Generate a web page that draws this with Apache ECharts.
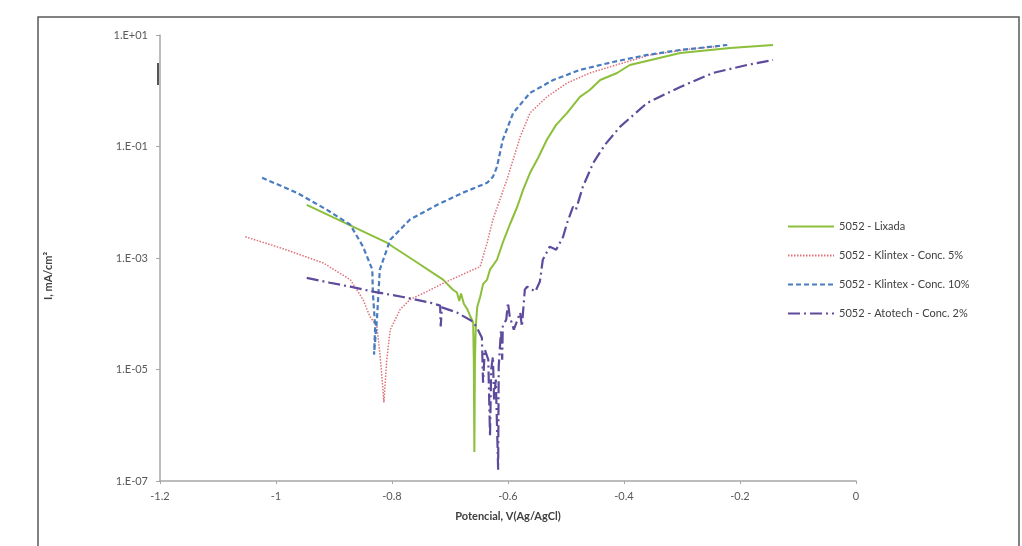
<!DOCTYPE html>
<html>
<head>
<meta charset="utf-8">
<script src="https://cdn.jsdelivr.net/npm/echarts@6/dist/echarts.min.js"></script>
<style>
  html, body { margin: 0; padding: 0; background: #fff; }
  #chart { width: 1022px; height: 546px; }
</style>
</head>
<body>
<div id="chart"></div>
<script>
// potential (V vs Ag/AgCl), current density (mA/cm2)
var lixada = [
  [-0.947, 9.0e-3], [-0.809, 1.88e-3], [-0.764, 9.3e-4], [-0.712, 4.1e-4],
  [-0.695, 2.7e-4], [-0.688, 2.4e-4], [-0.684, 1.7e-4], [-0.681, 2.3e-4],
  [-0.676, 1.5e-4], [-0.670, 1.2e-4], [-0.666, 9.5e-5], [-0.660, 6.9e-5],
  [-0.659, 1.5e-5], [-0.658, 3.3e-7], [-0.657, 1.5e-5], [-0.656, 4.0e-5],
  [-0.655, 7.0e-5], [-0.653, 1.34e-4], [-0.648, 2.0e-4], [-0.643, 3.4e-4],
  [-0.636, 4.1e-4], [-0.631, 6.2e-4], [-0.619, 9.3e-4], [-0.609, 1.88e-3],
  [-0.597, 3.95e-3], [-0.584, 8.3e-3], [-0.574, 0.0167], [-0.562, 0.0337],
  [-0.548, 0.0627], [-0.533, 0.132], [-0.517, 0.244], [-0.498, 0.401],
  [-0.476, 0.775], [-0.459, 1.03], [-0.441, 1.56], [-0.412, 2.08],
  [-0.390, 2.90], [-0.303, 4.76], [-0.217, 5.85], [-0.143, 6.62]
];
var klintex5 = [
  [-1.053, 2.4e-3], [-0.993, 1.53e-3], [-0.919, 8.2e-4], [-0.872, 4.1e-4],
  [-0.850, 1.8e-4], [-0.838, 8.9e-5], [-0.826, 5.9e-5], [-0.821, 2.0e-5],
  [-0.816, 4.96e-6], [-0.814, 2.56e-6], [-0.809, 1.5e-5], [-0.803, 5.2e-5],
  [-0.786, 1.19e-4], [-0.769, 1.8e-4], [-0.740, 2.5e-4], [-0.705, 3.8e-4],
  [-0.660, 6.2e-4], [-0.648, 7.0e-4], [-0.636, 1.88e-3], [-0.626, 4.9e-3],
  [-0.614, 0.0111], [-0.602, 0.0253], [-0.595, 0.043], [-0.579, 0.149],
  [-0.562, 0.401], [-0.533, 0.775], [-0.498, 1.38], [-0.459, 2.08],
  [-0.419, 2.79], [-0.355, 4.39], [-0.286, 5.61], [-0.234, 6.3]
];
var klintex10 = [
  [-1.024, 0.0275], [-0.964, 0.0148], [-0.912, 7.3e-3], [-0.872, 3.95e-3],
  [-0.850, 1.6e-3], [-0.834, 6.2e-4], [-0.833, 2.4e-4], [-0.829, 5.9e-5],
  [-0.831, 1.85e-5], [-0.826, 7.9e-5], [-0.821, 6.2e-4], [-0.803, 2.13e-3],
  [-0.769, 4.9e-3], [-0.722, 9.0e-3], [-0.678, 0.0148], [-0.636, 0.0223],
  [-0.626, 0.0286], [-0.619, 0.0432], [-0.609, 0.132], [-0.591, 0.401],
  [-0.562, 0.914], [-0.522, 1.56], [-0.476, 2.36], [-0.419, 3.28],
  [-0.360, 4.39], [-0.303, 5.38], [-0.222, 6.62]
];
var atotech = [
  [-0.947, 4.4e-4], [-0.907, 3.6e-4], [-0.872, 3.06e-4], [-0.833, 2.5e-4],
  [-0.781, 2.0e-4], [-0.734, 1.58e-4], [-0.717, 1.4e-4], [-0.716, 5.9e-5],
  [-0.714, 1.3e-4], [-0.688, 1.05e-4], [-0.660, 7.2e-5], [-0.652, 5.2e-5],
  [-0.645, 3.7e-5], [-0.643, 5.8e-6], [-0.640, 2.28e-5], [-0.634, 1.5e-5],
  [-0.631, 6.3e-7], [-0.629, 1.0e-5], [-0.626, 1.7e-5], [-0.624, 2.9e-6],
  [-0.621, 6.6e-6], [-0.617, 1.6e-7], [-0.616, 1.13e-5], [-0.612, 5.2e-5],
  [-0.610, 1.5e-5], [-0.609, 5.9e-5], [-0.603, 7.9e-5], [-0.600, 1.58e-4],
  [-0.597, 8.9e-5], [-0.590, 5.2e-5], [-0.579, 1.05e-4], [-0.576, 5.9e-5],
  [-0.571, 2.7e-4], [-0.567, 3.06e-4], [-0.553, 2.5e-4], [-0.545, 3.8e-4],
  [-0.540, 9.3e-4], [-0.528, 1.6e-3], [-0.517, 1.41e-3], [-0.505, 2.4e-3],
  [-0.498, 4.3e-3], [-0.488, 8.3e-3], [-0.483, 7.3e-3], [-0.471, 0.0189],
  [-0.453, 0.0509], [-0.433, 0.107], [-0.407, 0.225], [-0.360, 0.605],
  [-0.303, 1.17], [-0.247, 2.08], [-0.188, 2.90], [-0.143, 3.56]
];

var seriesNames = ['5052 - Lixada', '5052 - Klintex - Conc. 5%', '5052 - Klintex - Conc. 10%', '5052 - Atotech - Conc. 2%'];
var yTickLabels = { '-7': '1.E-07', '-5': '1.E-05', '-3': '1.E-03', '-1': '1.E-01', '1': '1.E+01' };

var font = 'Lato, "Open Sans", sans-serif';
var chart = echarts.init(document.getElementById('chart'));

var option = {
  animation: false,
  backgroundColor: '#fff',
  textStyle: { fontFamily: font },
  grid: { left: 160, right: 166, top: 35, bottom: 65 },
  legend: {
    orient: 'vertical',
    left: 782,
    top: 216,
    itemWidth: 46,
    itemHeight: 10,
    itemGap: 18,
    itemStyle: { opacity: 0 },
    textStyle: { fontSize: 11, color: '#404040', fontFamily: font },
    data: seriesNames
  },
  xAxis: {
    type: 'value',
    min: -1.2,
    max: 0,
    interval: 0.2,
    name: 'Potencial, V(Ag/AgCl)',
    nameLocation: 'middle',
    nameGap: 30,
    nameTextStyle: { fontSize: 11, fontWeight: 'bold', color: '#404040' },
    axisLine: { onZero: false, lineStyle: { color: '#a6a6a6', width: 1.5 } },
    axisTick: { show: true, length: 3, lineStyle: { color: '#a6a6a6' } },
    axisLabel: { fontSize: 11, color: '#595959', margin: 10 },
    splitLine: { show: false }
  },
  yAxis: {
    type: 'log',
    logBase: 10,
    min: 1e-7,
    max: 10,
    interval: 2,
    name: 'I, mA/cm²',
    nameLocation: 'middle',
    nameGap: 106,
    nameRotate: 90,
    nameTextStyle: { fontSize: 11, fontWeight: 'bold', color: '#404040', padding: [0, 36, 0, 0] },
    axisLine: { show: true, onZero: false, lineStyle: { color: '#a6a6a6', width: 1.5 } },
    axisTick: { show: true, length: 4, lineStyle: { color: '#a6a6a6' } },
    axisLabel: {
      fontSize: 11,
      color: '#595959',
      margin: 12,
      formatter: function (v) {
        var e = Math.round(Math.log10(v));
        return yTickLabels[String(e)] || '';
      }
    },
    splitLine: { show: false },
    minorTick: { show: false }
  },
  series: [
    {
      name: seriesNames[0], type: 'line', data: lixada, symbol: 'none',
      lineStyle: { color: '#8cbf3a', width: 2 }, itemStyle: { color: '#8cbf3a' }
    },
    {
      name: seriesNames[1], type: 'line', data: klintex5, symbol: 'none',
      lineStyle: { color: '#e0707a', width: 1.5, type: [1.5, 1.5] }, itemStyle: { color: '#e0707a' }
    },
    {
      name: seriesNames[2], type: 'line', data: klintex10, symbol: 'none',
      lineStyle: { color: '#4a7cc0', width: 2.2, type: [5, 3] }, itemStyle: { color: '#4a7cc0' }
    },
    {
      name: seriesNames[3], type: 'line', data: atotech, symbol: 'none',
      lineStyle: { color: '#5e4b9c', width: 2.2, type: [12, 4, 2, 4] }, itemStyle: { color: '#5e4b9c' }
    }
  ],
  graphic: [
    {
      type: 'rect', silent: true, z: -1,
      shape: { x: 38, y: 17, width: 981, height: 545 },
      style: { fill: 'none', stroke: '#5a5a5a', lineWidth: 1.5 }
    },
    {
      type: 'line', silent: true,
      shape: { x1: 158, y1: 63, x2: 158, y2: 85 },
      style: { stroke: '#555', lineWidth: 2 }
    }
  ]
};

chart.setOption(option);
</script>
</body>
</html>
